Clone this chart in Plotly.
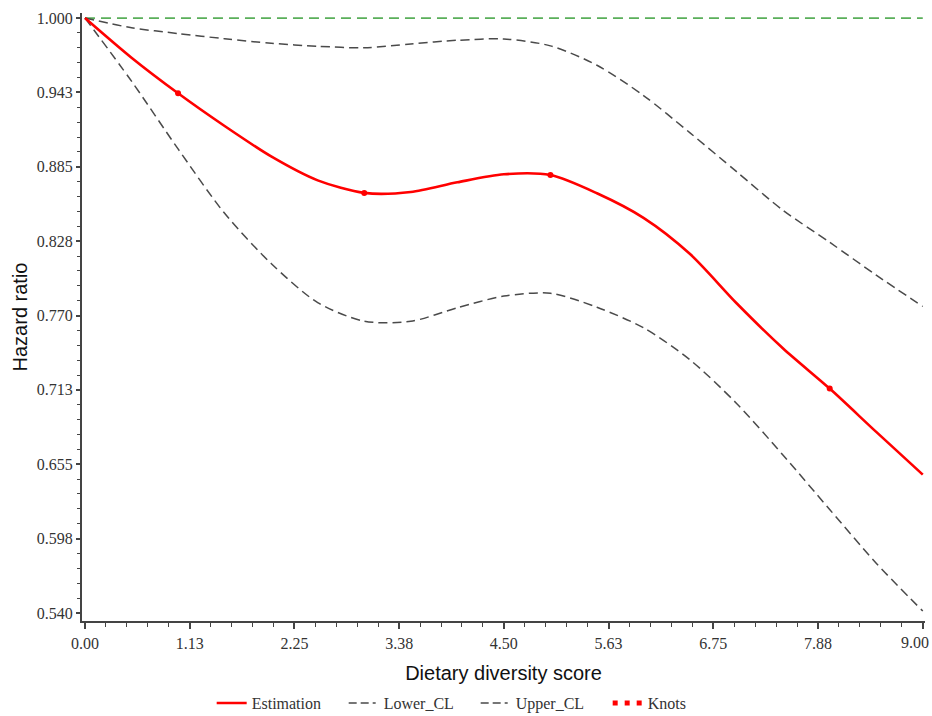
import plotly.graph_objects as go

# Dietary diversity score grid and curves
score = [0.0, 0.5, 1.0, 1.5, 2.0, 2.5, 3.0, 3.5, 4.0, 4.5, 5.0, 5.5, 6.0, 6.5, 7.0, 7.5, 8.0, 8.5, 9.0]
estimation = [1.000, 0.9693, 0.9418, 0.9165, 0.8930, 0.8745, 0.8648, 0.8655, 0.8730, 0.8792,
              0.8786, 0.8645, 0.8455, 0.8175, 0.7795, 0.7445, 0.7135, 0.6800, 0.6470]
lower_cl = [1.000, 0.9512, 0.8988, 0.8490, 0.8102, 0.7800, 0.7656, 0.7655, 0.7760, 0.7850,
            0.7872, 0.7764, 0.7605, 0.7357, 0.7020, 0.6620, 0.6200, 0.5785, 0.5415]
upper_cl = [1.000, 0.9925, 0.9880, 0.9840, 0.9805, 0.9782, 0.9770, 0.9800, 0.9828, 0.9838,
            0.9785, 0.9635, 0.9401, 0.9112, 0.8812, 0.8513, 0.8266, 0.8012, 0.7770]

knot_x = [1.0, 3.0, 5.0, 8.0]
knot_y = [0.9418, 0.8648, 0.8786, 0.7135]

ref_x = [0.0, 9.0]
ref_y = [1.0, 1.0]

x_tickvals = [0, 1.125, 2.25, 3.375, 4.5, 5.625, 6.75, 7.875, 9.0]
x_ticktext = ["0.00", "1.13", "2.25", "3.38", "4.50", "5.63", "6.75", "7.88", ""]
x_last_label = "9.00"
y_tickvals = [1.0, 0.9425, 0.885, 0.8275, 0.77, 0.7125, 0.655, 0.5975, 0.54]
y_ticktext = ["1.000", "0.943", "0.885", "0.828", "0.770", "0.713", "0.655", "0.598", "0.540"]

GRAY = "#4a4a4a"
AXIS = "#444444"
serif = "Liberation Serif"
sans = "Liberation Sans"

fig = go.Figure()
fig.add_trace(go.Scatter(x=ref_x, y=ref_y, mode="lines", showlegend=False, hoverinfo="skip",
                         line=dict(color="rgb(90,175,90)", width=1.8, dash="10px,6px")))
fig.add_trace(go.Scatter(x=score, y=lower_cl, mode="lines", name="Lower_CL", showlegend=False,
                         line=dict(color=GRAY, width=1.5, dash="9px,5px", shape="spline", smoothing=0.8)))
fig.add_trace(go.Scatter(x=score, y=upper_cl, mode="lines", name="Upper_CL", showlegend=False,
                         line=dict(color=GRAY, width=1.5, dash="9px,5px", shape="spline", smoothing=0.8)))
fig.add_trace(go.Scatter(x=score, y=estimation, mode="lines", name="Estimation",
                         line=dict(color="#ff0000", width=2.6, shape="spline", smoothing=0.8)))
fig.add_trace(go.Scatter(x=knot_x, y=knot_y, mode="markers", name="Knots", showlegend=False,
                         marker=dict(color="#ff0000", size=6)))
# legend entries
fig.add_trace(go.Scatter(x=[None], y=[None], mode="lines", name="Lower_CL",
                         line=dict(color=GRAY, width=1.5, dash="8px,4px,8px,4px,3px,10px")))
fig.add_trace(go.Scatter(x=[None], y=[None], mode="lines", name="Upper_CL",
                         line=dict(color=GRAY, width=1.5, dash="8px,4px,8px,4px,3px,10px")))
fig.add_trace(go.Scatter(x=[None], y=[None], mode="lines", name="Knots",
                         line=dict(color="#ff0000", width=5, dash="5px,7px")))

# last x tick label, nudged left so it stays inside the page (as in the reference)
fig.add_annotation(x=x_tickvals[-1], xref="x", y=-0.036, yref="paper", yanchor="middle",
                   text=x_last_label, showarrow=False, xanchor="center", xshift=-8,
                   font=dict(family=serif, size=16, color="#333333"))

fig.update_layout(
    width=932, height=716,
    margin=dict(l=82, r=7, t=13, b=95, autoexpand=False),
    paper_bgcolor="white", plot_bgcolor="white",
    font=dict(family=serif, size=16, color="#333333"),
    legend=dict(orientation="h", x=0.467, xanchor="center", yref="container", y=0.018, yanchor="middle",
                entrywidth=87, entrywidthmode="pixels",
                font=dict(family=serif, size=16, color="#333333"), bgcolor="rgba(0,0,0,0)"),
    xaxis=dict(range=[-0.032, 9.024], showgrid=False, zeroline=False, automargin=False,
               showline=True, linecolor=AXIS, linewidth=2,
               tickmode="array", tickvals=x_tickvals, ticktext=x_ticktext,
               ticks="outside", ticklen=6, tickwidth=1.5, tickcolor=AXIS,
               ticklabelstandoff=1,
               minor=dict(tickmode="linear", tick0=0, dtick=0.225, ticks="outside",
                          ticklen=4, tickwidth=1.2, tickcolor=AXIS, showgrid=False),
               tickfont=dict(family=serif, size=16, color="#333333"),
               title=dict(text="Dietary diversity score", font=dict(family=sans, size=20, color="#111111"),
                          standoff=15)),
    yaxis=dict(range=[0.5338, 1.0039], showgrid=False, zeroline=False, automargin=False,
               showline=True, linecolor=AXIS, linewidth=2,
               tickmode="array", tickvals=y_tickvals, ticktext=y_ticktext,
               ticks="outside", ticklen=4, tickwidth=1.5, tickcolor=AXIS,
               minor=dict(tickmode="linear", tick0=0.54, dtick=0.0115, ticks="outside",
                          ticklen=3, tickwidth=1.2, tickcolor=AXIS, showgrid=False),
               tickfont=dict(family=serif, size=16, color="#333333"),
               title=dict(text="Hazard ratio", font=dict(family=sans, size=20, color="#111111"),
                          standoff=4)),
)

fig.write_html("out.html")
